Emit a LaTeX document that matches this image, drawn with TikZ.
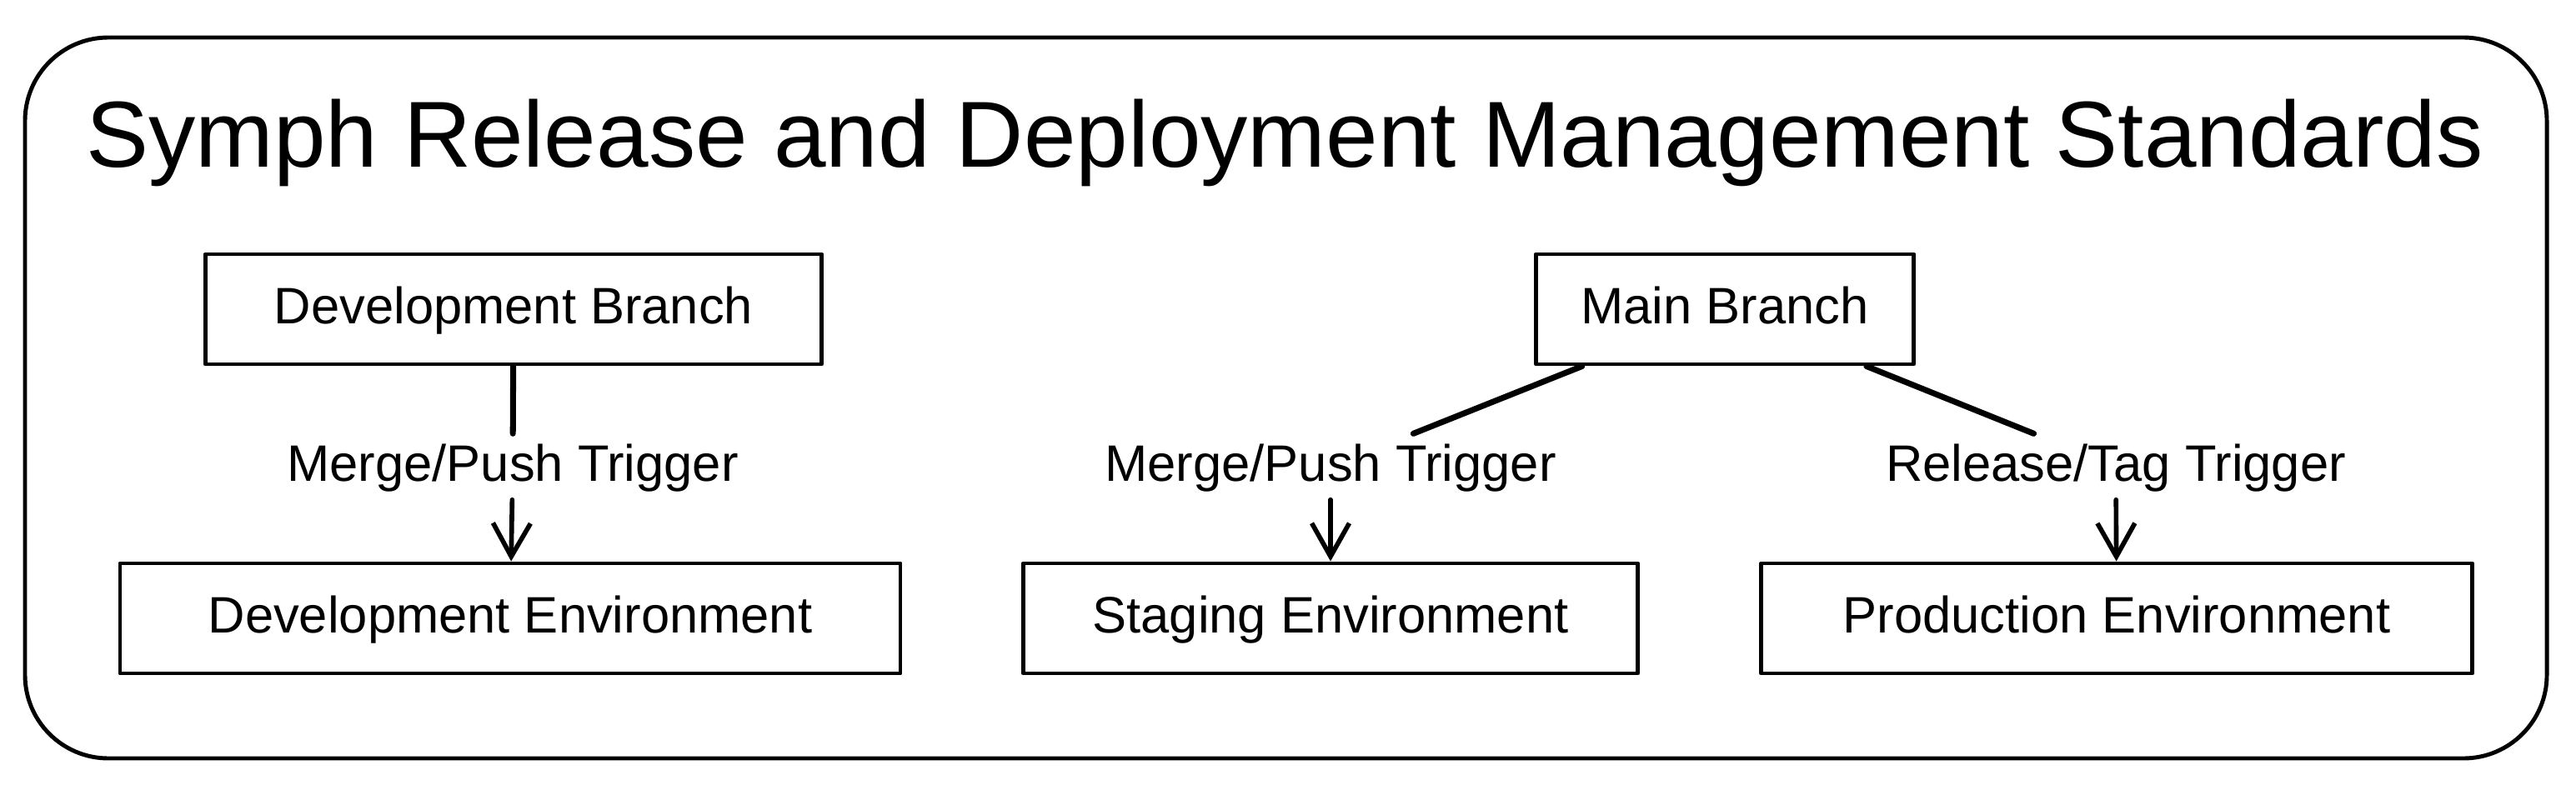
\documentclass[tikz,border=0pt]{standalone}
\usepackage{fontspec}
\setmainfont{Liberation Sans}
\usetikzlibrary{arrows.meta}

\begin{document}
\begin{tikzpicture}[
  line join=round, line cap=round,
  stage/.style={draw, line width=1.4pt, minimum height=1.32cm, inner sep=0pt, text height=0.46cm, text depth=0.12cm, font=\fontsize{17.5}{21}\selectfont},
  trigger/.style={inner sep=0.1cm, text height=0.46cm, text depth=0.12cm, font=\fontsize{17.5}{21}\selectfont},
  link/.style={line width=2pt},
  push/.style={line width=1.6pt, -{Straight Barb[length=4mm,width=4.5mm,line width=1.6pt]}}
]
\useasboundingbox (0,0) rectangle (30.9,-9.41);

% Outer frame and title
\draw[line width=1.4pt, rounded corners=1cm] (0.30,-0.45) rectangle (30.55,-9.10);
\node[anchor=base, font=\fontsize{32}{38}\selectfont] (title) at (15.41,-2.00) {Symph Release and Deployment Management Standards};

% Top row: branches
\node[stage, minimum width=7.39cm] (devbranch) at (6.16,-3.71) {Development Branch};
\node[stage, minimum width=4.53cm] (mainbranch) at (20.69,-3.71) {Main Branch};

% Bottom row: environments
\node[stage, minimum width=9.36cm] (devenv) at (6.12,-7.42) {Development Environment};
\node[stage, minimum width=7.37cm] (stagingenv) at (15.96,-7.42) {Staging Environment};
\node[stage, minimum width=8.53cm] (prodenv) at (25.39,-7.42) {Production Environment};

% Trigger labels
\node[trigger] (devtrig) at (6.15,-5.60) {Merge/Push Trigger};
\node[trigger] (stagetrig) at (15.96,-5.60) {Merge/Push Trigger};
\node[trigger] (prodtrig) at (25.38,-5.60) {Release/Tag Trigger};

% Connectors
\draw[link] (devbranch) -- (devtrig);
\draw[push] (devtrig) -- (devenv);
\draw[link] (mainbranch) -- (stagetrig);
\draw[push] (stagetrig) -- (stagingenv);
\draw[link] (mainbranch) -- (prodtrig);
\draw[push] (prodtrig) -- (prodenv);
\end{tikzpicture}
\end{document}
